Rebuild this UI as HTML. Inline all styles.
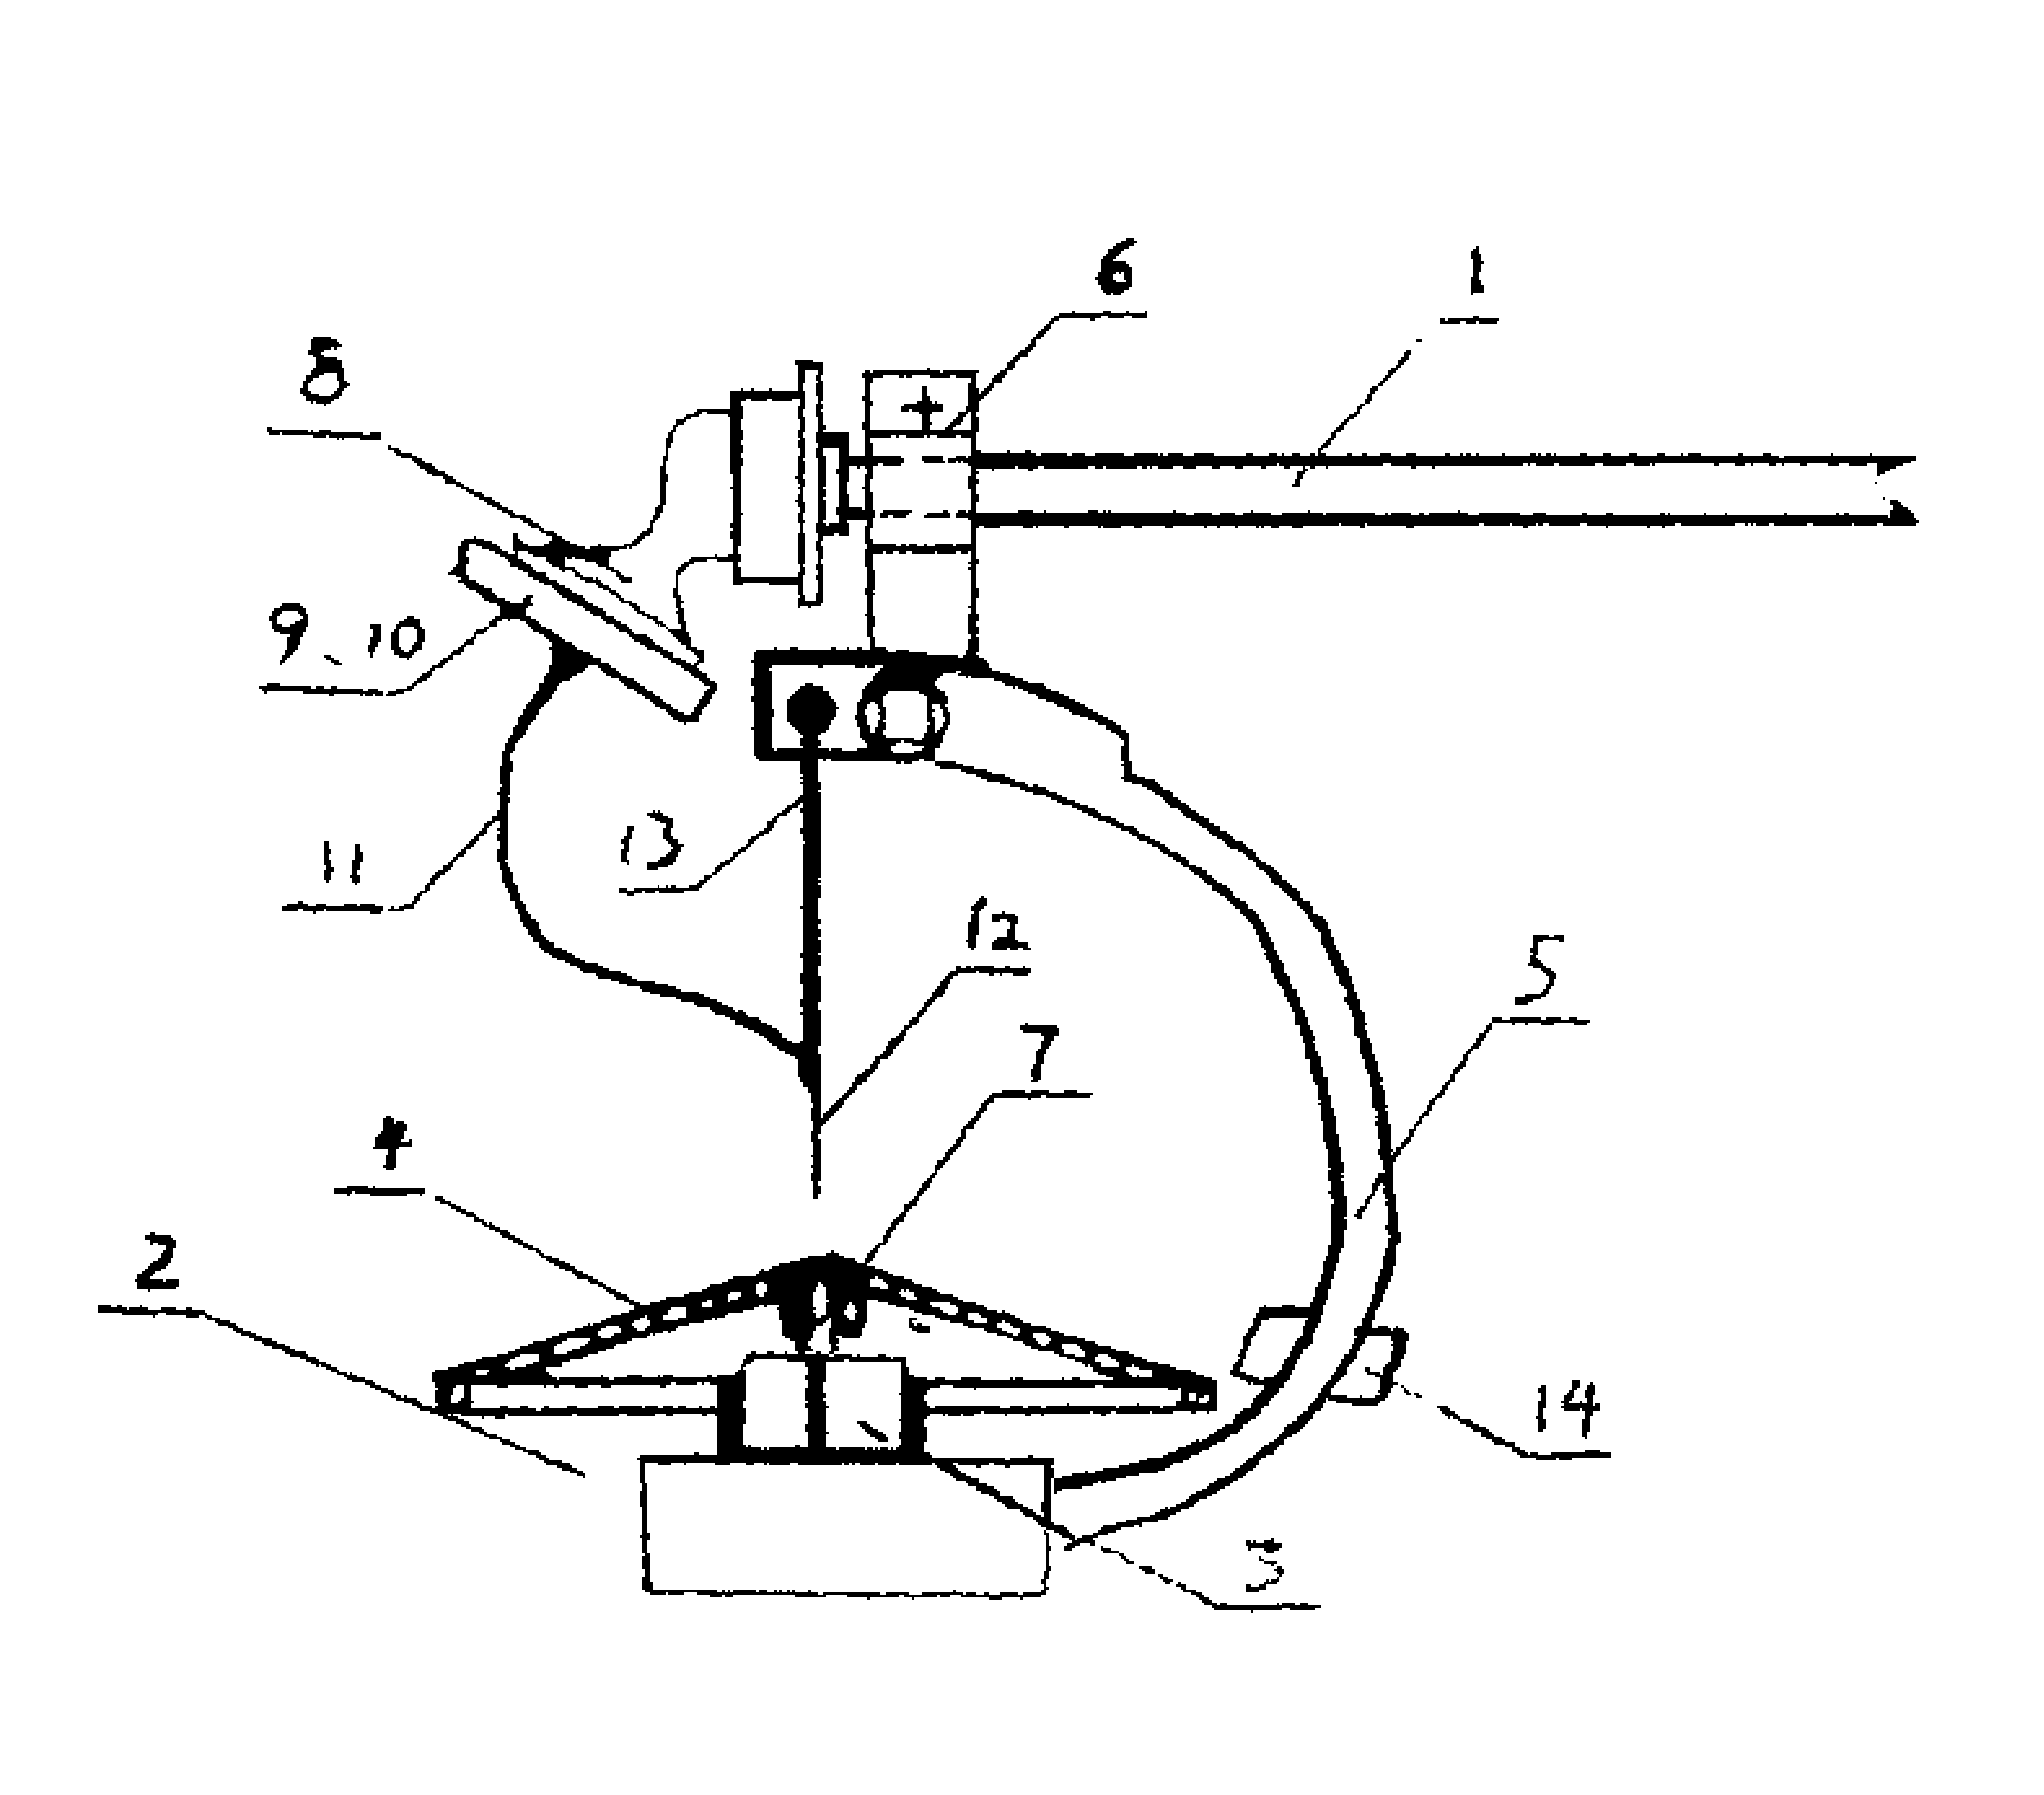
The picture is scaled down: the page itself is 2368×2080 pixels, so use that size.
<!DOCTYPE html>
<html>
<head>
<meta charset="utf-8">
<title>Figure</title>
<style>
html,body{margin:0;padding:0;background:#fff;font-family:"Liberation Sans",sans-serif;}
body{width:2368px;height:2080px;overflow:hidden;}
svg{display:block;}
.s{fill:none;stroke:#000;stroke-linecap:round;stroke-linejoin:round;}
.b{fill:#000;stroke:none;}
.w{fill:#fff;stroke:none;}
</style>
</head>
<body>
<svg width="2368" height="2080" viewBox="0 0 2368 2080">
<rect x="0" y="0" width="2368" height="2080" fill="#fff"/>
<defs>
<filter id="scan" filterUnits="userSpaceOnUse" x="0" y="0" width="2368" height="2080" color-interpolation-filters="sRGB">
<feTurbulence type="fractalNoise" baseFrequency="0.07" numOctaves="3" seed="11" result="noise"/>
<feDisplacementMap in="SourceGraphic" in2="noise" scale="8" xChannelSelector="R" yChannelSelector="G" result="rough"/>
<feFlood x="1" y="1" width="1" height="1" flood-color="#000" result="dot"/>
<feOffset in="dot" dx="0" dy="0" x="0" y="0" width="3" height="3" result="cell"/>
<feTile in="cell" result="grid"/>
<feComposite in="rough" in2="grid" operator="in" result="samp"/>
<feMorphology in="samp" operator="dilate" radius="1" result="pix"/>
<feComponentTransfer in="pix">
<feFuncR type="discrete" tableValues="0 1"/>
<feFuncG type="discrete" tableValues="0 1"/>
<feFuncB type="discrete" tableValues="0 1"/>
</feComponentTransfer>
</filter>
</defs>
<g id="src">
<g id="rod">
<path class="b" d="M1128.0,525.0 L1500.0,527.0 L2050.0,527.6 L2224.0,528.0 L2224.0,530.0 L2177.0,550.0 L2174.0,550.0 L2174.0,538.5 L2050.0,538.0 L1500.0,540.6 L1128.0,543.5 Z"/>
<path class="b" d="M1128.0,592.5 L1500.0,594.0 L2050.0,596.8 L2190.0,597.5 L2190.0,580.0 L2199.0,580.0 L2220.0,603.0 L2220.0,609.0 L2050.0,609.0 L1500.0,609.6 L1128.0,610.5 Z"/>
<rect class="b" x="2171" y="557" width="3" height="6"/><rect class="b" x="2181" y="574" width="3" height="3"/>
</g>
<g id="box6">
<path class="s" stroke-width="8"  d="M1005,433 L1128,433 L1128,760 M1005,433 L1006,600 L1010,756"/>
<path class="s" stroke-width="8"  d="M1006,502 L1128,502"/>
<path class="s" stroke-width="9"  d="M1008,636 L1128,636"/>
<path class="b" d="M1045.0,468.5 L1058.0,467.5 L1065.0,466.0 L1067.5,461.0 L1068.5,446.0 L1075.5,446.0 L1076.5,461.0 L1079.0,466.0 L1086.0,467.5 L1094.0,468.5 L1094.0,475.5 L1086.0,476.5 L1079.0,477.5 L1076.5,481.0 L1076.5,498.0 L1067.5,498.0 L1067.5,481.0 L1064.0,477.5 L1058.0,476.5 L1045.0,475.5 Z"/>
<path class="s" stroke-width="7" stroke-linecap="butt" d="M1069,532 L1090,532 M1100,533 L1130,533 M1024,595 L1052,595 M1074,596 L1100,596 M1110,597 L1130,597"/>
<path class="s" stroke-width="11" stroke-linecap="butt" d="M983,534 L1043,534"/>
</g>
<g id="disc">
<path class="b" d="M947.0,499.0 L983.0,503.0 L983.0,619.0 L947.0,619.0 Z"/>
<path class="w" d="M956.0,518.0 L971.0,518.0 L971.0,607.0 L956.0,607.0 Z"/>
<path class="s" stroke-width="13" stroke-linecap="butt" d="M983,596 L1008,596"/>
<path class="b" d="M923.0,417.0 L954.0,420.0 L953.0,700.0 L923.0,706.0 Z"/>
<path class="w" d="M932.0,429.0 L947.0,429.0 L946.0,694.0 L932.0,696.0 Z"/>
<path class="b" d="M846.0,453.0 L925.0,453.0 L925.0,677.0 L849.0,677.0 Z"/>
<path class="w" d="M860.0,463.0 L925.0,463.0 L925.0,669.0 L857.0,669.0 Z"/>
</g>
<g id="wires">
<path class="s" stroke-width="6"  d="M848.0,479.0 C842.7,478.7 826.0,475.3 816.0,477.0 C806.0,478.7 794.7,483.5 788.0,489.0 C781.3,494.5 779.2,500.8 776.0,510.0 C772.8,519.2 770.3,532.7 769.0,544.0 C767.7,555.3 770.0,567.8 768.0,578.0 C766.0,588.2 761.7,597.0 757.0,605.0 C752.3,613.0 746.2,621.0 740.0,626.0 C733.8,631.0 728.0,633.2 720.0,635.0 C712.0,636.8 702.3,636.5 692.0,637.0 C681.7,637.5 665.7,638.2 658.0,638.0 C650.3,637.8 648.0,636.3 646.0,636.0"/>
<path class="s" stroke-width="6"  d="M848.0,647.0 C843.7,647.0 830.3,646.2 822.0,647.0 C813.7,647.8 804.0,649.2 798.0,652.0 C792.0,654.8 788.5,658.7 786.0,664.0 C783.5,669.3 782.7,676.7 783.0,684.0 C783.3,691.3 786.5,700.5 788.0,708.0 C789.5,715.5 790.0,722.8 792.0,729.0 C794.0,735.2 796.7,739.2 800.0,745.0 C803.3,750.8 810.0,760.8 812.0,764.0"/>
</g>
<g id="plates">
<path class="s" stroke-width="9"  d="M541.0,628.0 L556.0,627.0 L592.0,648.0 L676.0,699.0 L799.0,775.0 L828.0,795.0 L803.0,834.0 L791.0,833.0 L694.0,768.0 L641.0,740.0 L579.0,696.0 L536.0,672.0 L536.0,640.0 Z"/>
<path class="b" d="M518.0,662.0 L537.0,650.0 L537.0,673.0 Z"/>
<path class="b" d="M595.0,621.7 L605.7,627.9 L623.3,633.1 L646.2,625.2 L658.5,634.0 L669.1,637.2 L681.4,636.7 L690.2,632.3 L705.2,632.3 L706.4,642.8 L706.1,656.0 L693.7,653.4 L677.9,646.4 L657.6,646.4 L649.7,658.3 L644.4,657.8 L630.3,646.4 L612.7,641.1 L597.7,637.6 Z"/>
<path class="s" stroke-width="5"  d="M648.0,657.0 L694.0,676.0 L771.0,726.0 L808.0,757.0 L815.0,756.0 L806.0,774.0"/>
<path class="s" stroke-width="7"  d="M597,622 L598,648"/>
<path class="b" d="M579.3,695.7 L591.6,700.0 L600.4,699.2 L612.7,689.5 L618.0,691.3 L614.5,700.0 L609.2,702.7 L609.2,711.5 L602.2,716.8 L588.0,716.8 L579.3,713.3 Z"/>
<path class="b" d="M640.9,739.7 L692.0,766.0 L683.2,771.4 L665.6,782.0 L655.0,789.9 L637.4,783.7 L639.1,759.0 Z"/>
<path class="b" d="M773.0,729.0 L796.0,729.0 L800.0,745.0 L790.0,746.0 Z"/>
</g>
<path class="b" d="M644.9,769.5 L642.1,773.3 L638.1,778.6 L633.5,784.8 L629.0,790.8 L625.3,795.8 L620.8,801.9 L617.2,806.9 L613.4,812.4 L609.1,819.2 L604.7,826.3 L600.6,833.0 L597.2,839.3 L594.1,845.3 L591.4,850.8 L587.5,857.9 L584.3,866.0 L582.5,873.4 L581.1,881.2 L580.0,889.4 L579.7,895.4 L579.6,901.3 L579.6,907.5 L579.5,914.8 L579.3,920.3 L579.0,926.4 L578.7,932.9 L578.4,939.7 L578.1,946.7 L578.0,953.9 L577.9,960.3 L577.8,967.3 L577.7,974.5 L577.7,981.7 L577.8,988.6 L578.0,995.0 L578.6,1000.7 L580.2,1009.7 L582.7,1015.8 L585.4,1021.9 L587.2,1027.5 L589.3,1033.8 L592.1,1041.0 L596.1,1049.5 L598.6,1054.4 L601.3,1060.0 L604.3,1066.0 L607.7,1072.3 L611.3,1078.7 L615.4,1085.0 L619.9,1090.9 L624.8,1096.3 L629.5,1100.5 L634.5,1104.2 L639.6,1107.6 L644.9,1110.7 L650.5,1113.7 L656.2,1116.5 L662.2,1119.2 L668.3,1121.8 L674.7,1124.5 L680.2,1126.8 L686.1,1129.0 L692.1,1131.1 L698.3,1133.2 L704.7,1135.2 L711.1,1137.2 L717.6,1139.2 L724.1,1141.1 L730.6,1143.0 L737.0,1144.9 L743.3,1146.8 L749.7,1148.7 L756.3,1150.5 L762.9,1152.3 L769.6,1154.1 L776.3,1155.9 L782.9,1157.6 L789.3,1159.4 L795.4,1161.1 L801.3,1162.8 L806.8,1164.5 L811.9,1166.1 L819.2,1168.9 L826.0,1171.7 L832.2,1174.5 L837.9,1177.3 L843.1,1180.0 L848.1,1182.5 L852.6,1184.7 L860.4,1188.7 L865.6,1191.6 L870.8,1194.6 L876.3,1197.8 L881.6,1200.8 L886.6,1203.9 L891.7,1207.0 L896.8,1210.4 L901.7,1213.7 L909.0,1219.0 L915.7,1223.9 L921.8,1227.5 L926.1,1229.8 L933.9,1218.2 L930.2,1215.1 L924.9,1210.9 L918.4,1206.1 L910.9,1200.7 L905.7,1197.1 L900.3,1193.6 L894.8,1190.1 L889.2,1187.1 L883.6,1184.2 L877.8,1181.4 L872.5,1178.7 L866.8,1175.9 L858.6,1172.1 L854.1,1170.0 L849.2,1167.7 L843.8,1165.0 L837.7,1162.3 L831.1,1159.4 L823.9,1156.6 L816.1,1153.9 L810.7,1152.1 L804.9,1150.5 L798.8,1148.8 L792.5,1147.2 L786.0,1145.5 L779.4,1143.8 L772.7,1142.2 L766.1,1140.5 L759.5,1138.8 L753.0,1137.0 L746.7,1135.2 L740.4,1133.4 L734.0,1131.5 L727.5,1129.6 L721.1,1127.7 L714.6,1125.7 L708.3,1123.8 L702.1,1121.8 L696.0,1119.8 L690.2,1117.7 L684.6,1115.6 L679.3,1113.5 L673.0,1110.8 L667.0,1108.2 L661.3,1105.6 L655.9,1103.0 L650.8,1100.3 L646.0,1097.4 L641.4,1094.4 L637.1,1091.2 L633.2,1087.7 L629.0,1083.3 L625.0,1078.2 L621.2,1072.6 L617.7,1066.7 L614.4,1060.7 L611.4,1054.9 L608.5,1049.3 L605.9,1044.5 L601.9,1036.6 L599.1,1030.1 L596.9,1024.1 L594.6,1018.1 L591.5,1011.8 L589.1,1007.0 L587.4,999.3 L587.2,994.5 L587.1,988.5 L587.1,981.8 L587.3,974.7 L587.5,967.5 L587.8,960.6 L588.0,954.1 L588.3,947.1 L588.7,940.2 L589.2,933.5 L589.7,927.0 L590.1,920.9 L590.5,915.2 L590.9,907.9 L591.1,901.6 L591.4,896.0 L592.0,890.6 L592.9,883.0 L594.2,875.9 L595.7,870.0 L598.7,863.5 L602.6,857.2 L605.9,852.1 L609.5,846.7 L613.4,841.0 L617.6,834.5 L622.2,827.8 L626.6,821.6 L630.3,816.6 L634.1,812.0 L638.7,806.2 L642.6,801.3 L647.3,795.4 L652.0,789.4 L656.2,784.1 L659.1,780.5 Z"/>
<g id="box13">
<path class="b" d="M884,753 L1010,751 L1060,755 L1128,763 L1134,775 L1100,778 L1082,790 L1082,881 L886,881 Q872,881 872,867 L872,766 Q872,753 884,753 Z"/>
<path class="w" d="M900,771 L1021,773 L1000,800 L1002,868 L900,868 Q895,868 895,862 L895,777 Q895,771 900,771 Z"/>
<circle class="b" cx="940" cy="823" r="29"/>
<circle class="b" cx="1046" cy="830" r="54"/>
<rect class="w" x="1024" y="802" width="50" height="54" rx="10"/>
<ellipse class="w" cx="1011" cy="830" rx="7" ry="18"/>
<ellipse class="w" cx="1087" cy="831" rx="6" ry="16"/>
<ellipse class="w" cx="1050" cy="867" rx="21" ry="6"/>
</g>
<path class="b" d="M928.0,850.0 L950.0,850.0 L950.0,1000.0 L950.0,1240.0 L950.0,1330.0 L951.0,1362.0 L951.5,1383.0 L947.0,1388.0 L941.0,1386.0 L940.0,1362.0 L941.4,1330.0 L941.4,1275.0 L933.6,1264.0 L926.6,1251.7 L924.2,1230.0 L924.2,1214.0 L929.0,1205.0 L930.0,1000.0 Z"/>
<g id="arc">
<path class="b" d="M1115.8,774.1 L1119.3,775.4 L1126.7,778.1 L1131.6,780.0 L1137.7,782.4 L1144.5,785.0 L1151.3,787.7 L1157.7,790.1 L1165.0,792.7 L1172.0,795.1 L1178.8,797.5 L1185.7,800.1 L1191.3,802.3 L1197.0,804.6 L1202.8,807.0 L1208.6,809.4 L1214.4,811.9 L1220.3,814.6 L1226.3,817.4 L1232.3,820.2 L1238.3,823.0 L1244.2,825.9 L1250.1,828.5 L1255.9,831.1 L1261.7,833.7 L1267.2,836.3 L1272.4,838.8 L1278.7,842.1 L1284.6,845.3 L1289.9,848.3 L1293.6,850.7 L1298.7,855.8 L1301.2,859.4 L1308.8,854.6 L1306.1,849.8 L1300.4,843.3 L1295.4,839.7 L1289.9,836.2 L1283.8,832.7 L1277.6,829.2 L1272.4,826.2 L1267.0,823.2 L1261.3,820.2 L1255.6,817.1 L1249.8,814.1 L1243.9,811.3 L1237.9,808.4 L1231.8,805.6 L1225.7,802.8 L1219.6,800.1 L1213.7,797.5 L1207.8,795.0 L1201.9,792.5 L1196.1,790.2 L1190.3,787.9 L1183.2,785.3 L1176.3,782.9 L1169.4,780.5 L1162.3,777.9 L1156.0,775.5 L1149.2,772.9 L1142.5,770.3 L1136.3,767.9 L1131.3,765.9 L1123.8,763.1 L1120.2,761.9 Z"/>
<path class="b" d="M1112.0,768.0 L1120.0,758.0 L1127.0,748.0 L1133.0,758.0 L1142.0,766.0 L1150.0,786.0 L1130.0,786.0 L1112.0,782.0 Z"/>
<path class="s" stroke-width="9"  d="M1305,857 L1304,900"/>
<path class="b" d="M1302.6,904.3 L1306.9,905.7 L1312.9,907.6 L1319.7,909.9 L1326.6,912.5 L1332.7,915.4 L1338.2,918.7 L1343.7,922.7 L1349.4,927.1 L1355.2,931.6 L1361.1,936.1 L1367.0,940.2 L1372.9,944.3 L1378.8,948.4 L1384.8,952.4 L1390.7,956.5 L1396.6,960.6 L1402.5,964.7 L1408.4,968.9 L1414.3,973.0 L1420.1,977.1 L1426.0,981.1 L1431.8,985.1 L1437.5,989.0 L1443.2,993.0 L1448.9,997.4 L1453.7,1001.4 L1458.5,1005.6 L1463.4,1009.9 L1468.3,1014.4 L1473.3,1019.0 L1478.2,1023.6 L1483.1,1028.4 L1488.2,1033.3 L1493.2,1038.3 L1498.1,1043.2 L1502.7,1048.0 L1506.9,1052.7 L1511.5,1058.1 L1515.7,1063.2 L1519.5,1068.2 L1523.0,1073.3 L1526.3,1078.7 L1529.3,1084.5 L1532.0,1090.6 L1534.6,1097.1 L1537.3,1103.8 L1540.0,1110.6 L1542.6,1116.2 L1545.1,1121.7 L1547.7,1127.1 L1550.2,1132.6 L1552.6,1138.3 L1554.9,1144.3 L1556.7,1149.3 L1558.4,1154.1 L1559.9,1158.9 L1561.5,1164.2 L1563.3,1170.2 L1565.3,1177.2 L1567.7,1185.8 L1569.0,1190.4 L1570.4,1195.5 L1571.9,1201.0 L1573.5,1206.8 L1575.2,1212.9 L1576.9,1219.2 L1578.7,1225.6 L1580.4,1232.1 L1582.2,1238.6 L1583.9,1245.1 L1585.5,1251.4 L1587.0,1257.6 L1588.3,1263.6 L1589.6,1269.2 L1590.6,1274.5 L1592.1,1281.3 L1593.3,1287.9 L1594.4,1294.4 L1595.3,1300.8 L1596.2,1306.9 L1596.9,1313.0 L1597.5,1318.8 L1598.2,1324.5 L1598.8,1330.1 L1599.4,1335.4 L1600.0,1340.6 L1600.9,1348.1 L1601.7,1354.7 L1602.4,1360.9 L1603.0,1366.7 L1603.6,1372.5 L1604.3,1378.3 L1605.0,1384.5 L1605.6,1391.1 L1606.3,1397.9 L1607.0,1404.7 L1607.7,1411.4 L1608.2,1417.8 L1608.5,1423.7 L1608.5,1428.9 L1608.1,1435.6 L1607.2,1441.5 L1606.0,1447.1 L1604.6,1452.7 L1603.2,1458.4 L1601.7,1465.0 L1600.2,1470.9 L1598.3,1477.2 L1595.9,1484.9 L1594.1,1490.1 L1592.0,1496.0 L1589.8,1502.2 L1587.5,1508.6 L1585.1,1515.0 L1582.7,1521.0 L1580.5,1526.7 L1578.0,1532.6 L1575.7,1537.9 L1573.4,1543.0 L1570.9,1548.1 L1568.2,1553.4 L1565.0,1559.1 L1562.2,1563.8 L1559.1,1568.8 L1555.8,1574.0 L1552.2,1579.3 L1548.7,1584.6 L1545.1,1589.9 L1541.6,1594.9 L1538.3,1599.7 L1534.1,1605.8 L1530.0,1611.6 L1526.0,1617.2 L1522.1,1622.5 L1518.2,1627.5 L1514.3,1632.2 L1509.6,1637.2 L1505.0,1641.7 L1500.3,1646.0 L1495.2,1650.3 L1489.8,1655.1 L1485.0,1659.4 L1479.9,1663.9 L1474.7,1668.4 L1469.4,1673.0 L1464.2,1677.4 L1459.0,1681.7 L1453.8,1685.8 L1448.6,1689.8 L1443.5,1693.7 L1438.4,1697.6 L1433.2,1701.2 L1428.1,1704.7 L1423.2,1708.0 L1418.6,1710.9 L1413.9,1713.8 L1409.0,1716.6 L1403.5,1719.7 L1397.3,1723.2 L1392.7,1726.0 L1388.1,1728.9 L1383.2,1731.9 L1378.2,1735.0 L1373.0,1738.1 L1367.5,1741.2 L1361.8,1744.2 L1355.8,1747.1 L1349.4,1749.8 L1344.3,1751.7 L1338.7,1753.5 L1332.7,1755.3 L1326.4,1757.0 L1319.9,1758.7 L1313.4,1760.4 L1306.8,1762.0 L1300.3,1763.7 L1294.0,1765.4 L1287.9,1767.1 L1282.2,1768.9 L1276.8,1770.7 L1269.4,1773.7 L1262.2,1776.9 L1255.4,1780.3 L1249.1,1783.6 L1243.3,1786.7 L1238.3,1789.6 L1234.1,1792.0 L1230.9,1793.8 L1233.1,1798.2 L1236.6,1796.6 L1240.9,1794.4 L1246.0,1791.8 L1251.8,1788.9 L1258.1,1785.9 L1264.9,1782.8 L1271.9,1779.9 L1279.2,1777.3 L1284.3,1775.7 L1289.9,1774.2 L1295.9,1772.6 L1302.1,1771.1 L1308.6,1769.6 L1315.2,1768.1 L1321.9,1766.6 L1328.5,1765.1 L1334.9,1763.5 L1341.1,1761.8 L1347.1,1760.1 L1352.6,1758.2 L1359.4,1755.6 L1365.9,1752.7 L1372.0,1749.8 L1377.8,1746.8 L1383.3,1743.8 L1388.5,1740.8 L1393.5,1737.9 L1398.2,1735.3 L1402.7,1732.8 L1408.9,1729.3 L1414.5,1726.2 L1419.5,1723.2 L1424.4,1720.3 L1429.2,1717.2 L1434.3,1713.9 L1439.6,1710.2 L1444.8,1706.4 L1450.1,1702.5 L1455.4,1698.5 L1460.6,1694.5 L1465.8,1690.3 L1471.2,1686.0 L1476.6,1681.5 L1482.0,1677.0 L1487.4,1672.4 L1492.5,1668.0 L1497.4,1663.7 L1502.8,1659.0 L1507.9,1654.6 L1512.9,1650.1 L1517.9,1645.3 L1522.9,1639.8 L1527.1,1634.8 L1531.3,1629.5 L1535.3,1624.0 L1539.4,1618.3 L1543.5,1612.4 L1547.7,1606.3 L1551.1,1601.5 L1554.6,1596.4 L1558.2,1591.1 L1561.8,1585.7 L1565.4,1580.3 L1568.8,1575.0 L1572.0,1569.8 L1575.0,1564.9 L1578.4,1558.9 L1581.3,1553.4 L1584.0,1548.1 L1586.5,1542.8 L1588.9,1537.3 L1591.5,1531.3 L1594.0,1525.6 L1596.5,1519.5 L1599.1,1513.1 L1601.6,1506.6 L1604.0,1500.4 L1606.2,1494.5 L1608.1,1489.1 L1610.9,1481.4 L1613.2,1474.7 L1615.1,1468.4 L1616.8,1461.6 L1618.1,1455.9 L1619.3,1450.0 L1620.5,1443.7 L1621.3,1436.7 L1621.5,1429.1 L1621.1,1422.9 L1620.3,1416.5 L1619.3,1409.9 L1618.2,1403.2 L1617.0,1396.5 L1615.9,1389.9 L1615.0,1383.5 L1614.5,1377.4 L1614.2,1371.6 L1613.8,1365.8 L1613.5,1359.9 L1613.1,1353.7 L1612.6,1346.9 L1612.0,1339.4 L1611.6,1334.3 L1611.3,1329.0 L1610.9,1323.4 L1610.6,1317.7 L1610.2,1311.7 L1609.7,1305.5 L1609.2,1299.1 L1608.5,1292.5 L1607.6,1285.7 L1606.6,1278.7 L1605.4,1271.5 L1604.1,1266.0 L1602.7,1260.2 L1601.1,1254.1 L1599.5,1247.8 L1597.7,1241.4 L1595.9,1234.9 L1594.0,1228.3 L1592.1,1221.8 L1590.2,1215.4 L1588.3,1209.1 L1586.5,1203.1 L1584.8,1197.3 L1583.1,1191.8 L1581.6,1186.8 L1580.3,1182.2 L1577.8,1173.7 L1575.8,1166.5 L1574.0,1160.4 L1572.3,1155.0 L1570.7,1150.0 L1569.0,1145.0 L1567.1,1139.7 L1564.6,1133.4 L1562.1,1127.4 L1559.5,1121.7 L1556.9,1116.2 L1554.4,1110.8 L1552.0,1105.4 L1549.1,1098.9 L1546.3,1092.3 L1543.4,1085.6 L1540.2,1079.0 L1536.7,1072.7 L1532.8,1066.8 L1528.8,1061.3 L1524.6,1056.0 L1520.0,1050.7 L1515.1,1045.3 L1510.5,1040.5 L1505.6,1035.6 L1500.5,1030.7 L1495.3,1025.8 L1490.1,1021.0 L1485.0,1016.4 L1480.1,1011.7 L1475.1,1007.1 L1470.1,1002.5 L1465.1,998.0 L1460.1,993.7 L1455.1,989.6 L1449.2,985.0 L1443.2,980.8 L1437.4,976.8 L1431.6,972.9 L1425.9,968.9 L1420.0,964.8 L1414.1,960.7 L1408.2,956.5 L1402.3,952.4 L1396.3,948.3 L1390.4,944.2 L1384.5,940.1 L1378.6,936.1 L1372.7,932.0 L1366.9,927.9 L1361.2,923.7 L1355.5,919.2 L1349.7,914.7 L1343.7,910.4 L1337.3,906.6 L1330.3,903.5 L1322.8,900.8 L1315.7,898.6 L1309.6,896.9 L1305.4,895.7 Z"/>
<path class="b" d="M1081.8,888.5 L1084.9,888.4 L1089.7,888.6 L1099.2,890.3 L1103.2,891.3 L1108.1,892.6 L1113.6,894.0 L1119.5,895.6 L1125.8,897.3 L1132.2,899.0 L1138.7,900.9 L1145.2,902.7 L1151.5,904.5 L1157.6,906.3 L1163.4,908.1 L1169.3,909.9 L1175.1,911.7 L1181.0,913.5 L1186.8,915.3 L1192.7,917.2 L1198.5,919.1 L1204.3,921.1 L1210.2,923.2 L1216.0,925.3 L1221.8,927.6 L1227.6,929.9 L1233.5,932.2 L1239.3,934.6 L1245.1,937.1 L1251.0,939.6 L1256.8,942.2 L1262.6,944.8 L1268.5,947.4 L1274.3,950.1 L1280.2,952.8 L1286.1,955.6 L1291.9,958.3 L1297.8,961.1 L1303.6,964.0 L1309.5,966.9 L1315.3,969.9 L1321.2,972.9 L1327.0,976.1 L1332.8,979.4 L1338.2,982.6 L1343.7,986.0 L1349.4,989.6 L1355.1,993.2 L1360.8,997.0 L1366.4,1000.7 L1371.9,1004.4 L1377.1,1008.0 L1382.1,1011.5 L1386.7,1014.7 L1390.9,1017.7 L1397.4,1022.4 L1402.7,1026.5 L1407.1,1030.2 L1411.2,1033.7 L1415.2,1037.3 L1419.8,1041.3 L1424.7,1045.7 L1429.7,1050.0 L1434.6,1054.4 L1439.3,1058.8 L1443.6,1063.2 L1447.3,1067.8 L1450.6,1072.4 L1453.7,1077.5 L1456.4,1082.7 L1459.0,1088.1 L1461.5,1093.5 L1463.9,1098.7 L1466.4,1104.5 L1468.6,1110.1 L1470.7,1115.8 L1472.9,1121.8 L1475.7,1128.3 L1478.4,1133.9 L1481.3,1139.5 L1484.4,1145.2 L1487.4,1150.9 L1490.3,1156.7 L1493.1,1162.6 L1495.3,1167.8 L1497.5,1173.1 L1499.6,1178.5 L1501.7,1184.0 L1503.8,1189.8 L1505.9,1195.7 L1508.1,1202.0 L1509.9,1207.7 L1511.7,1213.8 L1513.6,1220.0 L1515.4,1226.3 L1517.2,1232.7 L1519.0,1239.1 L1520.7,1245.5 L1522.2,1251.8 L1523.8,1257.9 L1525.3,1264.1 L1526.7,1270.3 L1528.0,1276.5 L1529.3,1282.7 L1530.6,1288.9 L1531.8,1295.1 L1532.9,1301.3 L1533.9,1307.5 L1534.9,1313.7 L1535.8,1319.9 L1536.6,1326.1 L1537.4,1332.3 L1538.1,1338.5 L1538.8,1344.7 L1539.3,1350.8 L1539.9,1357.1 L1540.4,1363.5 L1540.8,1370.0 L1541.1,1376.5 L1541.3,1382.8 L1541.6,1389.0 L1541.7,1394.8 L1541.8,1400.2 L1541.9,1408.2 L1541.9,1415.4 L1541.7,1422.1 L1541.4,1428.0 L1541.1,1432.9 L1539.9,1441.2 L1537.9,1448.8 L1536.6,1454.7 L1535.1,1461.0 L1533.5,1467.6 L1531.9,1474.0 L1530.1,1479.8 L1528.4,1485.4 L1526.5,1491.2 L1524.3,1497.8 L1522.4,1504.0 L1520.2,1510.8 L1518.0,1517.7 L1515.7,1524.4 L1513.5,1530.5 L1511.1,1536.6 L1509.1,1541.4 L1506.4,1546.7 L1501.9,1554.5 L1499.5,1558.6 L1496.8,1563.2 L1493.9,1568.2 L1490.7,1573.5 L1487.4,1579.0 L1483.9,1584.5 L1480.2,1590.1 L1476.4,1595.5 L1472.6,1600.6 L1468.6,1605.5 L1464.9,1609.9 L1461.1,1614.2 L1457.2,1618.5 L1453.3,1622.7 L1449.2,1626.9 L1445.0,1630.9 L1440.6,1635.0 L1436.1,1638.9 L1431.3,1642.8 L1426.3,1646.5 L1421.1,1650.2 L1416.4,1653.3 L1411.4,1656.4 L1406.1,1659.5 L1400.7,1662.6 L1395.0,1665.6 L1389.3,1668.6 L1383.5,1671.5 L1377.6,1674.3 L1371.7,1677.0 L1365.8,1679.6 L1359.9,1682.0 L1354.2,1684.3 L1348.6,1686.4 L1342.6,1688.4 L1336.6,1690.3 L1330.5,1691.9 L1324.3,1693.4 L1318.1,1694.8 L1311.9,1696.0 L1305.8,1697.2 L1299.7,1698.3 L1293.7,1699.4 L1287.8,1700.5 L1282.0,1701.5 L1276.5,1702.7 L1269.2,1704.1 L1261.8,1705.6 L1254.5,1707.0 L1247.4,1708.3 L1240.7,1709.6 L1234.4,1710.7 L1228.9,1711.7 L1224.2,1712.5 L1220.5,1713.1 L1223.5,1728.9 L1227.2,1728.1 L1231.8,1727.2 L1237.3,1726.1 L1243.6,1724.8 L1250.3,1723.5 L1257.5,1722.0 L1264.8,1720.5 L1272.3,1718.9 L1279.5,1717.3 L1285.0,1716.2 L1290.6,1715.0 L1296.4,1713.9 L1302.4,1712.7 L1308.5,1711.5 L1314.8,1710.2 L1321.2,1708.8 L1327.6,1707.3 L1334.1,1705.7 L1340.6,1703.9 L1347.0,1701.8 L1353.4,1699.6 L1359.3,1697.4 L1365.2,1695.0 L1371.3,1692.4 L1377.4,1689.8 L1383.5,1687.0 L1389.6,1684.1 L1395.6,1681.1 L1401.6,1678.0 L1407.4,1674.8 L1413.1,1671.6 L1418.6,1668.4 L1423.9,1665.1 L1428.9,1661.8 L1434.6,1657.8 L1439.9,1653.8 L1445.1,1649.6 L1449.9,1645.4 L1454.6,1641.1 L1459.1,1636.8 L1463.4,1632.4 L1467.5,1628.0 L1471.6,1623.5 L1475.5,1619.0 L1479.4,1614.5 L1483.6,1609.2 L1487.8,1603.6 L1491.8,1597.9 L1495.6,1592.1 L1499.3,1586.4 L1502.7,1580.8 L1505.9,1575.4 L1508.9,1570.3 L1511.6,1565.7 L1514.1,1561.5 L1518.7,1553.4 L1521.8,1547.2 L1524.1,1541.8 L1526.5,1535.5 L1528.9,1529.1 L1531.3,1522.1 L1533.6,1515.1 L1535.7,1508.3 L1537.7,1502.2 L1539.8,1495.5 L1541.7,1489.6 L1543.5,1483.9 L1545.3,1478.0 L1547.4,1471.6 L1549.6,1465.1 L1551.6,1458.7 L1553.3,1453.2 L1556.0,1444.9 L1557.9,1435.1 L1558.4,1429.1 L1558.7,1422.7 L1558.9,1415.7 L1558.9,1408.0 L1558.8,1399.8 L1558.6,1394.2 L1558.3,1388.3 L1558.0,1382.0 L1557.6,1375.5 L1557.1,1368.9 L1556.6,1362.3 L1555.9,1355.6 L1555.3,1349.2 L1554.4,1342.8 L1553.5,1336.5 L1552.5,1330.2 L1551.5,1323.9 L1550.3,1317.6 L1549.2,1311.3 L1547.9,1305.0 L1546.7,1298.7 L1545.5,1292.4 L1544.3,1286.1 L1543.0,1279.8 L1541.7,1273.5 L1540.3,1267.2 L1538.9,1260.9 L1537.4,1254.6 L1535.8,1248.2 L1534.0,1241.9 L1532.1,1235.4 L1530.1,1228.9 L1528.1,1222.5 L1526.0,1216.1 L1524.0,1209.8 L1521.9,1203.8 L1519.9,1198.0 L1517.8,1191.7 L1515.7,1185.6 L1513.7,1179.7 L1511.6,1174.0 L1509.4,1168.4 L1507.2,1162.9 L1504.9,1157.4 L1502.0,1151.1 L1498.9,1145.0 L1495.8,1139.1 L1492.8,1133.5 L1490.0,1128.1 L1487.5,1122.9 L1485.0,1117.0 L1482.9,1111.3 L1480.8,1105.5 L1478.5,1099.5 L1475.7,1093.3 L1473.1,1088.0 L1470.4,1082.5 L1467.5,1076.9 L1464.3,1071.2 L1460.7,1065.6 L1456.7,1060.2 L1452.1,1055.2 L1447.1,1050.5 L1441.8,1046.1 L1436.5,1041.8 L1431.3,1037.7 L1426.2,1033.7 L1421.7,1029.9 L1417.4,1026.3 L1413.1,1022.8 L1408.4,1019.1 L1402.8,1015.0 L1396.1,1010.3 L1391.8,1007.4 L1387.1,1004.2 L1382.1,1000.8 L1376.7,997.3 L1371.2,993.6 L1365.4,989.9 L1359.6,986.2 L1353.8,982.6 L1348.0,979.0 L1342.3,975.6 L1336.8,972.4 L1330.9,969.1 L1324.9,965.9 L1319.0,962.7 L1313.1,959.7 L1307.2,956.8 L1301.2,953.9 L1295.3,951.1 L1289.4,948.3 L1283.6,945.6 L1277.7,942.9 L1271.8,940.2 L1265.9,937.5 L1260.0,934.9 L1254.1,932.3 L1248.3,929.7 L1242.4,927.2 L1236.5,924.8 L1230.6,922.4 L1224.7,920.1 L1218.8,917.9 L1212.9,915.7 L1207.0,913.6 L1201.1,911.6 L1195.2,909.6 L1189.3,907.7 L1183.4,905.8 L1177.5,904.0 L1171.6,902.2 L1165.7,900.4 L1159.8,898.7 L1153.8,896.9 L1147.4,895.0 L1140.9,893.2 L1134.3,891.3 L1127.9,889.5 L1121.6,887.8 L1115.6,886.3 L1110.1,884.8 L1105.2,883.6 L1100.8,882.5 L1091.0,880.4 L1085.4,879.8 L1082.2,879.5 Z"/>
</g>
<g id="smallbox">
<path class="s" stroke-width="13"  d="M1462,1520 L1524,1521"/>
<path class="s" stroke-width="9"  d="M1460,1522 L1430,1590 L1460,1603 L1482,1598"/>
</g>
<g id="item14">
<path class="s" stroke-width="10"  d="M1574,1543 L1593,1541 L1610,1545"/>
<path class="b" d="M1609.2,1550.4 L1612.3,1556.0 L1614.5,1562.0 L1613.0,1567.5 L1609.8,1574.7 L1605.9,1581.8 L1601.9,1589.8 L1600.6,1598.2 L1600.1,1604.8 L1598.6,1610.9 L1596.6,1615.7 L1593.3,1619.6 L1589.8,1622.6 L1594.2,1629.4 L1599.1,1627.1 L1605.4,1622.3 L1609.3,1615.0 L1611.9,1607.2 L1613.0,1599.9 L1614.1,1594.2 L1617.6,1588.5 L1622.2,1581.3 L1626.6,1572.6 L1629.5,1562.0 L1627.5,1551.0 L1624.8,1543.6 Z"/>
<path class="s" stroke-width="8"  d="M1594,1626 L1562,1623.5 L1543.5,1620"/>
<circle class="b" cx="1621.5" cy="1550" r="11"/>
<path class="s" stroke-width="6"  d="M1584,1588 L1604,1598"/>
</g>
<g id="umbrella">
<path class="b" d="M972.0,1452.0 L966.0,1448.0 L958.0,1452.0 L896.0,1469.0 L749.0,1513.0 L585.0,1567.0 L502.0,1590.0 L506.0,1632.0 L534.0,1642.0 L832.0,1639.0 L832.0,1630.0 L548.0,1631.0 L548.0,1606.0 L832.0,1605.0 L832.0,1595.0 L640.0,1596.0 L632.0,1587.0 L749.0,1548.0 L896.0,1511.0 L902.0,1512.0 L905.0,1548.0 L921.0,1553.0 L919.0,1567.0 L971.0,1567.0 L971.0,1550.0 L996.0,1550.0 L1004.0,1530.0 L1009.0,1470.0 Z"/>
<path class="b" d="M1005.0,1464.0 L1056.0,1485.0 L1147.0,1517.0 L1245.0,1550.0 L1410.0,1599.0 L1410.0,1636.0 L1073.0,1640.0 L1073.0,1630.0 L1360.0,1629.0 L1370.0,1608.0 L1073.0,1608.0 L1073.0,1597.0 L1200.0,1598.0 L1292.0,1598.0 L1245.0,1577.0 L1147.0,1543.0 L1049.0,1517.0 L1004.0,1503.0 Z"/>
<g class="w">
<ellipse cx="882" cy="1493" rx="5" ry="8" transform="rotate(0 882 1493)"/>
<ellipse cx="851" cy="1501" rx="9" ry="4.5" transform="rotate(-25 851 1501)"/>
<ellipse cx="819" cy="1512" rx="7" ry="5.5" transform="rotate(-20 819 1512)"/>
<ellipse cx="781" cy="1523" rx="14.5" ry="7" transform="rotate(-22 781 1523)"/>
<ellipse cx="743" cy="1534" rx="10.5" ry="7" transform="rotate(-22 743 1534)"/>
<ellipse cx="706" cy="1543" rx="13" ry="6.5" transform="rotate(-17 706 1543)"/>
<ellipse cx="661" cy="1559" rx="21.5" ry="7" transform="rotate(-17 661 1559)"/>
<ellipse cx="605" cy="1577" rx="21.5" ry="6.5" transform="rotate(-15 605 1577)"/>
<ellipse cx="558" cy="1590" rx="8" ry="4" transform="rotate(-8 558 1590)"/>
<ellipse cx="530" cy="1616" rx="7" ry="12" transform="rotate(25 530 1616)"/>
<ellipse cx="950" cy="1506" rx="8.5" ry="20" transform="rotate(0 950 1506)"/>
<ellipse cx="985" cy="1521" rx="7" ry="11" transform="rotate(0 985 1521)"/>
<path d="M961,1528 L961,1567 L944,1569 L938,1560 L940,1545 Z"/>
<ellipse cx="1017" cy="1487" rx="12" ry="5.5" transform="rotate(22 1017 1487)"/>
<ellipse cx="1051" cy="1500" rx="11" ry="5.5" transform="rotate(20 1051 1500)"/>
<ellipse cx="1095" cy="1515" rx="17" ry="6" transform="rotate(19 1095 1515)"/>
<ellipse cx="1132" cy="1528" rx="12" ry="6" transform="rotate(18 1132 1528)"/>
<ellipse cx="1169" cy="1539" rx="14" ry="6" transform="rotate(18 1169 1539)"/>
<ellipse cx="1207" cy="1551" rx="11.5" ry="6" transform="rotate(17 1207 1551)"/>
<ellipse cx="1243" cy="1564" rx="15" ry="6" transform="rotate(17 1243 1564)"/>
<ellipse cx="1283" cy="1578" rx="14" ry="6.5" transform="rotate(17 1283 1578)"/>
<ellipse cx="1320" cy="1590" rx="14" ry="6" transform="rotate(15 1320 1590)"/>
<ellipse cx="1381" cy="1619" rx="6" ry="5" transform="rotate(0 1381 1619)"/>
<ellipse cx="1396" cy="1622" rx="7" ry="3.5" transform="rotate(-10 1396 1622)"/>
</g>
</g>
<path class="b" d="M1057.0,1534.0 L1068.0,1533.0 L1072.0,1536.0 L1078.0,1535.0 L1078.0,1546.0 L1072.0,1546.0 L1060.0,1544.0 L1057.0,1541.0 Z"/>
<path class="s" stroke-width="3"  d="M1055,1537 L1055,1529 L1062,1528"/>
<g id="center">
<path class="b" d="M831.0,1594.0 L855.0,1590.0 L866.0,1567.0 L1051.0,1572.0 L1051.0,1594.0 L1073.0,1596.0 L1073.0,1690.0 L1220.0,1688.0 L1220.0,1698.0 L1105.0,1698.0 L750.0,1696.0 L740.0,1686.0 L831.0,1686.0 Z"/>
<path class="w" d="M871,1577 L935,1577 L935,1677 L868,1677 Q863,1677 863,1672 L863,1588 Q863,1577 871,1577 Z"/>
<path class="w" d="M960,1578 L1043,1580 L1043,1670 Q1043,1678 1036,1678 L958,1678 L956,1590 Q956,1578 960,1578 Z"/>
<path class="s" stroke-width="8" stroke-linecap="butt" d="M998,1650 L1026,1669"/>
<path class="s" stroke-width="7.5"  d="M744,1690 L747,1760 L750,1838"/>
<path class="s" stroke-width="5.5"  d="M750,1838 Q751,1845 760,1844 L990,1848 L1200,1849 Q1210,1849 1211,1840"/>
<path class="s" stroke-width="9"  d="M1213,1693 L1213,1764"/>
<path class="s" stroke-width="4"  d="M1213,1764 L1214,1800 L1211,1842"/>
<path class="s" stroke-width="8"  d="M1073,1688 L1212,1764 L1241,1781"/>
</g>
<g id="leaders">
<path class="s" stroke-width="7"  d="M313,500 L437,506"/>
<path class="s" stroke-width="6"  d="M452,518 L680,642 L729,674"/>
<path class="s" stroke-width="7"  d="M306,797 L441,803"/>
<path class="s" stroke-width="6"  d="M450,805 L476,797 L581,715"/>
<path class="s" stroke-width="8"  d="M331,1051 L441,1053"/>
<path class="s" stroke-width="6"  d="M453,1054 L471,1052 L581,941"/>
<path class="s" stroke-width="6"  d="M721,1033 L807,1030 L930,924"/>
<path class="s" stroke-width="7"  d="M1326,366 L1228,365 L1098,499"/>
<path class="s" stroke-width="6"  d="M1671,372 L1735,371"/>
<path class="s" stroke-width="5"  d="M1634,408 L1548,502 L1528,524"/>
<path class="s" stroke-width="5"  d="M1512,543 L1501,562"/>
<circle class="b" cx="1645" cy="393" r="2"/>
<path class="s" stroke-width="8"  d="M1189,1126 L1110,1123"/>
<path class="s" stroke-width="8"  d="M1110,1123 L1040,1205 L950,1303"/>
<path class="s" stroke-width="7"  d="M1261,1268 L1152,1268 L1003,1464"/>
<path class="s" stroke-width="8"  d="M391,1380 L487,1381"/>
<path class="s" stroke-width="6"  d="M508,1389 L737,1511 L752,1517"/>
<path class="s" stroke-width="8"  d="M116,1517 L232,1522"/>
<path class="s" stroke-width="6"  d="M232,1522 L496,1632 L677,1710"/>
<path class="s" stroke-width="6"  d="M1839,1184 L1730,1182 L1613,1344 L1573,1410"/>
<path class="s" stroke-width="7"  d="M1862,1685 L1772,1689 L1668,1631"/>
<path class="s" stroke-width="4" stroke-linecap="butt" d="M1645,1618 L1638,1617 M1634,1614 L1622,1607 M1617,1605 L1609,1600"/>
<path class="s" stroke-width="7"  d="M1525,1861 L1411,1863 L1380,1844"/>
<path class="s" stroke-width="5" stroke-linecap="butt" stroke-dasharray="16 9" d="M1380,1844 L1262,1786"/>
</g>
<g id="labels">
<ellipse class="s" stroke-width="9" cx="376" cy="446" rx="22.5" ry="17.5" transform="rotate(-18 376 446)"/>
<path class="b" d="M364.0,391.0 L382.0,391.0 L392.0,395.0 L398.0,401.0 L392.0,404.0 L374.0,402.0 L374.0,412.0 L392.0,416.0 L397.0,428.0 L364.0,430.0 L366.0,415.0 L359.0,410.0 L360.0,398.0 Z"/>
<ellipse class="s" stroke-width="8" cx="335" cy="717" rx="18" ry="14" transform="rotate(-10 335 717)"/>
<path class="b" d="M352.0,716.0 L356.0,722.0 L344.0,752.0 L326.0,771.0 L324.0,768.0 L334.0,745.0 L336.0,730.0 Z"/>
<path class="s" stroke-width="5"  d="M380,761 L393,770"/>
<path class="b" d="M432.0,724.0 L442.0,723.0 L439.0,748.0 L430.0,764.0 L427.0,764.0 L428.0,750.0 Z"/>
<ellipse class="s" stroke-width="8" cx="472" cy="740" rx="14" ry="21" transform="rotate(20 472 740)"/>
<path class="s" stroke-width="8" stroke-linecap="butt" d="M379,982 L380,1018 M415,982 L411,1021"/>
<path class="s" stroke-width="7"  d="M730,960 C726,972 724,985 725,998"/>
<path class="s" stroke-width="9.5"  d="M756,944 L777,952 L772,968 L785,982 L775,998 L755,1004"/>
<circle class="b" cx="1292" cy="322" r="20"/>
<circle class="w" cx="1298" cy="322" r="6.5"/>
<path class="s" stroke-width="10"  d="M1280,310 C1282,296 1294,286 1310,282"/>
<path class="b" d="M1713.0,284.0 L1716.0,296.0 L1715.0,328.0 L1719.0,330.0 L1719.0,338.0 L1704.0,338.0 L1704.0,329.0 L1707.0,327.0 L1706.0,296.0 Z"/>
<path class="s" stroke-width="10"  d="M1139,1045 C1130,1054 1128,1062 1126,1096"/>
<path class="s" stroke-width="9" stroke-linejoin="miter" d="M1153,1062 L1175,1064 L1170,1088 L1152,1095 L1190,1096"/>
<path class="s" stroke-width="10"  d="M1188,1192 L1224,1195"/>
<path class="s" stroke-width="9"  d="M1216,1197 C1208,1215 1202,1232 1199,1250"/>
<path class="s" stroke-width="10"  d="M451,1298 L440,1327 L474,1325 M465,1305 L450,1352"/>
<path class="b" d="M451.0,1298.0 L440.0,1327.0 L458.0,1326.0 L464.0,1306.0 Z"/>
<path class="s" stroke-width="11.5" stroke-linejoin="miter" d="M174,1436 L198,1437 C200,1452 190,1463 175,1472 L163,1483 L163,1488 L202,1488"/>
<path class="s" stroke-width="7"  d="M1809,1088 L1779,1086 L1775,1116 C1790,1120 1800,1126 1798,1134 C1796,1146 1786,1154 1776,1157 L1758,1159"/>
<path class="s" stroke-width="9"  d="M1788,1611 L1785,1655"/>
<path class="s" stroke-width="8"  d="M1826,1602 L1814,1630 L1852,1631 M1843,1607 L1837,1661"/>
<path class="s" stroke-width="8"  d="M1447,1790 L1481,1792"/>
<path class="b" d="M1462.0,1784.0 L1476.0,1784.0 L1478.0,1800.0 L1466.0,1800.0 Z"/>
<path class="s" stroke-width="4"  d="M1459,1806 L1477,1812"/>
<circle class="b" cx="1483" cy="1821" r="5.5"/>
<path class="s" stroke-width="6"  d="M1478,1832 L1455,1842 L1446,1840"/>
</g>
</g>
<g id="drawing" filter="url(#scan)">
<rect x="0" y="0" width="2368" height="2080" fill="#fff"/>
<use href="#src"/>
</g>
</svg>
</body>
</html>
